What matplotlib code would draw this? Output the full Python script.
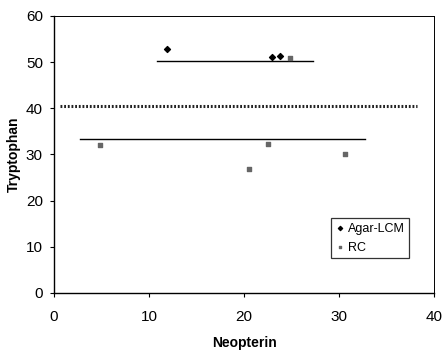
import matplotlib.pyplot as plt

plt.rcParams['font.family'] = ['Liberation Sans', 'DejaVu Sans']

# Agar-LCM points
agar_x = [11.9, 22.9, 23.8]
agar_y = [52.8, 51.2, 51.3]
# RC points
rc_x = [4.8, 20.5, 22.5, 24.8, 30.6]
rc_y = [32.0, 26.9, 32.3, 50.8, 30.2]

# horizontal reference lines (x start, x end, y)
upper_line = [10.8, 27.3, 50.2]
lower_line = [2.7, 32.7, 33.4]
cutoff_line = [0.6, 38.2, 40.6]

fig = plt.figure(figsize=(4.43, 3.55), dpi=100)
ax = fig.add_axes([0.122, 0.175, 0.858, 0.78])

ax.plot(upper_line[:2], [upper_line[2]] * 2, color='black', lw=1.0)
ax.plot(lower_line[:2], [lower_line[2]] * 2, color='black', lw=1.0)
ax.plot(cutoff_line[:2], [cutoff_line[2]] * 2, color='#222222', lw=2.2,
        linestyle=(0, (0.6, 0.6)))

ax.scatter(agar_x, agar_y, marker='D', s=9, color='black', label='Agar-LCM', zorder=3)
ax.scatter(rc_x, rc_y, marker='s', s=8, color='#666666', label='RC', zorder=3)

ax.set_xlim(0, 40)
ax.set_ylim(0, 60)
ax.set_xticks([0, 10, 20, 30, 40])
ax.set_yticks([0, 10, 20, 30, 40, 50, 60])
ax.tick_params(direction='out', length=3, width=0.8, labelsize=11)
ax.tick_params(axis='x', pad=9)
ax.tick_params(axis='y', pad=5)
ax.set_xlabel('Neopterin', fontweight='bold', fontsize=10, labelpad=9)
ax.set_ylabel('Tryptophan', fontweight='bold', fontsize=10)

for s in ['top', 'right']:
    ax.spines[s].set_linestyle((0, (1, 1)))
    ax.spines[s].set_linewidth(0.7)
for s in ['left', 'bottom']:
    ax.spines[s].set_linewidth(1.0)

leg = ax.legend(loc='lower right', bbox_to_anchor=(0.934, 0.126), borderaxespad=0,
                fontsize=9, frameon=True, fancybox=False, edgecolor='black',
                handletextpad=0.2, handlelength=0.8, borderpad=0.35,
                labelspacing=0.55, markerscale=0.7)
leg.get_frame().set_linewidth(0.9)

plt.savefig('out.png', dpi=100)
